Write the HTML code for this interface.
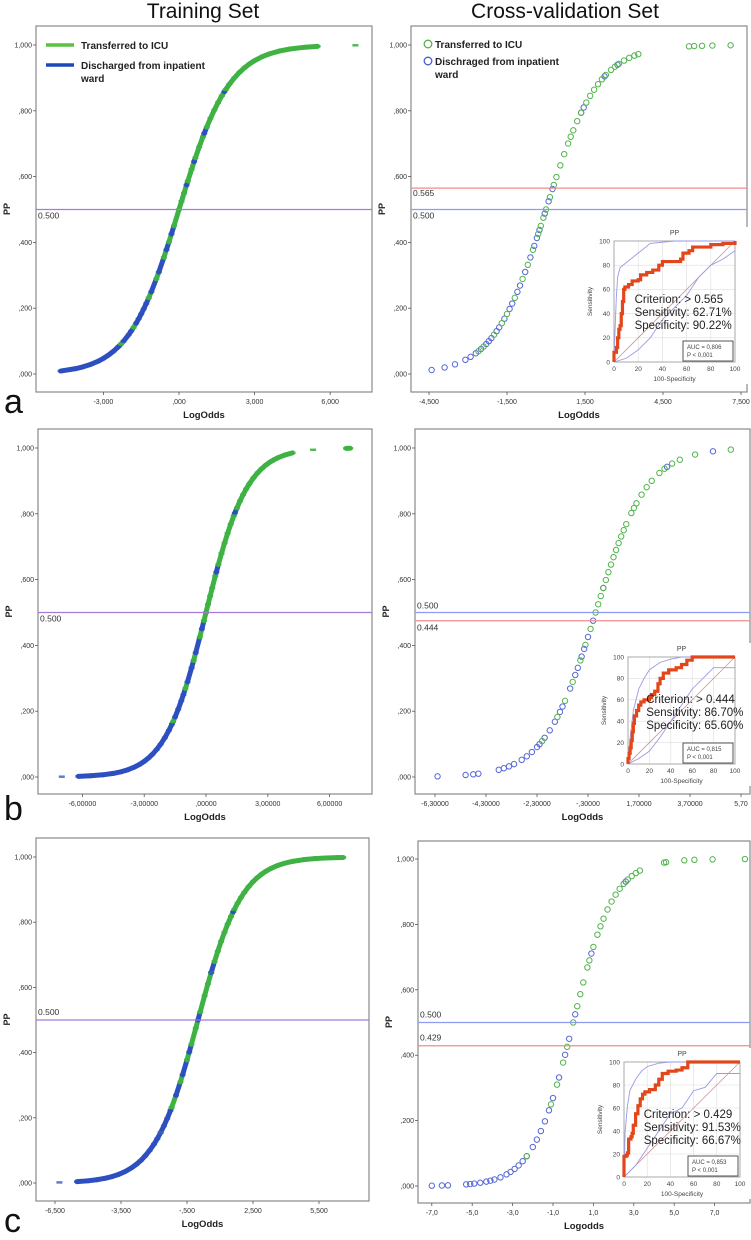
<!DOCTYPE html>
<html><head><meta charset="utf-8"><style>
html,body{margin:0;padding:0;background:#fff}
svg{display:block;font-family:"Liberation Sans",sans-serif}
</style></head><body>
<svg id="fig" width="751" height="1240" viewBox="0 0 751 1240" xmlns="http://www.w3.org/2000/svg">
<rect x="0" y="0" width="751" height="1240" fill="#fff"/>
<text x="203" y="18" font-size="21" text-anchor="middle" fill="#111">Training Set</text>
<text x="565" y="18" font-size="21" text-anchor="middle" fill="#111">Cross-validation Set</text>
<text x="4" y="413" font-size="34" fill="#111">a</text>
<text x="4" y="820" font-size="34" fill="#111">b</text>
<text x="4" y="1232" font-size="34" fill="#111">c</text>
<g id="root"></g>
</svg>
<script>
// ---- data: training sets (log-odds per outcome class) ----
const trainA_icu=[-2.3,-1.8,-1.2,-0.9,-0.6,-0.4,-0.2,0,0.1,0.2,0.35,0.5,0.65,0.8,0.95,1.1,1.25,1.4,1.55,1.7,1.85,2.0,2.2,2.4,2.6,2.8,3.0,3.3,3.6,4.0,4.4,5.0,5.5,7.0];
const trainA_dis=[-4.7,-4.1,-3.8,-3.5,-3.2,-3.0,-2.8,-2.6,-2.4,-2.2,-2.0,-1.9,-1.7,-1.6,-1.5,-1.4,-1.3,-1.1,-0.8,-0.5,-0.3,0.3,0.6,1.0,1.8];
const trainB_icu=[-1.6,-1.0,-0.6,-0.3,-0.1,0,0.1,0.2,0.3,0.45,0.6,0.75,0.9,1.05,1.2,1.35,1.5,1.65,1.8,1.95,2.1,2.3,2.5,2.7,2.9,3.1,3.3,3.5,3.8,4.2,5.2,6.8,7.0];
const trainB_dis=[-7.0,-6.2,-5.6,-5.0,-4.5,-4.1,-3.8,-3.5,-3.2,-3.0,-2.8,-2.6,-2.4,-2.2,-2.0,-1.8,-1.65,-1.5,-1.35,-1.2,-1.1,-0.9,-0.7,-0.5,-0.2,0.5,1.4];
const trainC_icu=[-1.7,-1.2,-0.8,-0.5,-0.3,-0.1,0.1,0.3,0.45,0.6,0.75,0.9,1.05,1.2,1.35,1.5,1.65,1.8,1.95,2.1,2.3,2.5,2.7,2.9,3.1,3.3,3.6,3.9,4.3,4.8,5.3,5.8,6.3,6.6];
const trainC_dis=[-6.3,-5.5,-5.0,-4.6,-4.2,-3.9,-3.6,-3.3,-3.0,-2.8,-2.6,-2.4,-2.2,-2.0,-1.85,-1.7,-1.55,-1.4,-1.25,-1.0,-0.7,-0.4,0.0,0.6,1.6];
// ---- data: cross-validation sets ----
const cvA_icu=[-2.6,-2.4,-2.0,-1.7,-1.5,-1.2,-0.9,-0.7,-0.5,-0.3,-0.2,-0.1,0.0,0.15,0.3,0.4,0.55,0.7,0.85,0.95,1.05,1.2,1.35,1.55,1.7,1.85,2.0,2.15,2.3,2.5,2.65,2.8,3.0,3.2,3.4,3.55,5.5,5.7,6.0,6.4,7.1];
const cvA_dis=[-4.4,-3.9,-3.5,-3.1,-2.9,-2.7,-2.5,-2.3,-2.2,-2.1,-1.9,-1.8,-1.6,-1.4,-1.3,-1.1,-1.0,-0.8,-0.6,-0.45,-0.35,-0.25,-0.05,0.1,0.25,1.35,1.45,2.25,2.75];
const cvB_icu=[-2.1,-1.5,-1.2,-0.9,-0.6,-0.4,-0.2,0,0.1,0.2,0.3,0.4,0.5,0.6,0.7,0.8,0.9,1.0,1.1,1.2,1.4,1.5,1.6,1.8,2.0,2.2,2.5,2.7,3.0,3.3,3.9,5.3];
const cvB_dis=[-6.2,-5.1,-4.8,-4.6,-3.8,-3.6,-3.4,-3.2,-2.9,-2.7,-2.5,-2.3,-2.2,-2.0,-1.8,-1.6,-1.4,-1.3,-1.0,-0.8,-0.7,-0.55,-0.45,-0.3,-0.1,0.3,2.8,4.6];
const cvC_icu=[-2.3,-1.1,-0.8,-0.5,-0.3,0,0.2,0.35,0.5,0.7,0.8,1.0,1.2,1.35,1.5,1.7,1.9,2.1,2.3,2.5,2.7,2.9,3.1,3.3,4.5,4.6,5.5,6.0,6.9,8.5];
const cvC_dis=[-7.0,-6.5,-6.2,-5.3,-5.1,-4.9,-4.6,-4.3,-4.1,-3.9,-3.6,-3.3,-3.1,-2.9,-2.7,-2.5,-2.3,-2.0,-1.8,-1.6,-1.4,-1.2,-1.0,-0.7,-0.4,-0.2,0.1,0.9,2.6];
// ---- tick values / labels ----
const yTickVals=[0,0.2,0.4,0.6,0.8,1.0];
const yTickLabels=[",000",",200",",400",",600",",800","1,000"];
const xTicksA_train=[-3,0,3,6]; const xLabA_train=["-3,000",",000","3,000","6,000"];
const xTicksA_cv=[-4.5,-1.5,1.5,4.5,7.5]; const xLabA_cv=["-4,500","-1,500","1,500","4,500","7,500"];
const xTicksB_train=[-6,-3,0,3,6]; const xLabB_train=["-6,00000","-3,00000",",00000","3,00000","6,00000"];
const xTicksB_cv=[-6.3,-4.3,-2.3,-0.3,1.7,3.7,5.7]; const xLabB_cv=["-6,30000","-4,30000","-2,30000","-,30000","1,70000","3,70000","5,70"];
const xTicksC_train=[-6.5,-3.5,-0.5,2.5,5.5]; const xLabC_train=["-6,500","-3,500","-,500","2,500","5,500"];
const xTicksC_cv=[-7,-5,-3,-1,1,3,5,7]; const xLabC_cv=["-7,0","-5,0","-3,0","-1,0","1,0","3,0","5,0","7,0"];
// ---- ROC data (fpr, tpr) ----
const rocA_fpr=[0,0,2,3,4,5,6,7,8,9,12,15,20,22,27,32,37,40,55,57,62,65,80,90,100];
const rocA_tpr=[0,8,12,20,27,30,40,50,60,62,64,67,68,72,74,76,80,83,85,90,92,95,97,98,100];
const rocA_upF=[0,1,2,3,5,10,20,30,50,100]; const rocA_upT=[0,30,55,70,78,82,90,98,100,100];
const rocA_loF=[0,10,20,30,40,50,60,70,80,90,100]; const rocA_loT=[0,3,10,20,35,45,55,70,80,85,92];
const rocB_fpr=[0,0,1,2,3,4,5,6,8,10,12,15,20,22,25,28,30,33,38,45,50,55,60,100];
const rocB_tpr=[0,5,10,15,22,30,38,45,50,55,58,60,62,65,68,75,80,85,88,90,93,97,100,100];
const rocB_upF=[0,2,5,10,15,20,30,40,50,100]; const rocB_upT=[0,25,50,70,80,88,95,98,100,100];
const rocB_loF=[0,10,20,30,40,50,60,70,80,100]; const rocB_loT=[0,5,12,25,40,55,70,80,90,90];
const rocC_fpr=[0,0,2,3,4,6,7,8,10,12,14,16,18,22,27,30,33,38,45,50,55,100];
const rocC_tpr=[0,18,19,21,33,35,38,45,55,62,68,72,74,76,80,85,90,92,93,95,100,100];
const rocC_upF=[0,1,3,5,10,15,20,30,40,100]; const rocC_upT=[0,40,62,75,85,92,96,99,100,100];
const rocC_loF=[0,5,10,20,30,40,50,60,70,80,100]; const rocC_loT=[0,5,10,25,40,55,60,75,78,90,90];

const NS="http://www.w3.org/2000/svg";
const root=document.getElementById('root');
function mk(tag,attrs,parent){const e=document.createElementNS(NS,tag);for(const k in attrs)e.setAttribute(k,attrs[k]);(parent||root).appendChild(e);return e;}
function txt(s,attrs,parent){const e=mk('text',attrs,parent);e.textContent=s;return e;}
const logistic=v=>1/(1+Math.exp(-v));
const GREEN="#3fb244", BLUE="#2d4fc0", CGREEN="#4fb44a", CBLUE="#5467d6";

function axes(g,c,xt,xl){
  const box=mk('rect',{x:c.bx0,y:c.by0,width:c.bx1-c.bx0,height:c.by1-c.by0,fill:'none',stroke:'#8a8a8a','stroke-width':1.2},g);
  
  
  yTickVals.forEach((v,i)=>{const y=c.Y(v);
    mk('line',{x1:c.bx0-3,x2:c.bx0,y1:y,y2:y,stroke:'#555','stroke-width':0.8},g);
    const t=txt(yTickLabels[i],{x:c.bx0-4,y:y+2.5,'font-size':7,'text-anchor':'end',fill:'#333'},g);
    
    });
  xt.forEach((v,i)=>{const x=c.X(v);
    mk('line',{x1:x,x2:x,y1:c.by1,y2:c.by1+3,stroke:'#555','stroke-width':0.8},g);
    const t=txt(xl[i],{x:x,y:c.by1+12,'font-size':7,'text-anchor':'middle',fill:'#333'},g);
    
    });
  const yt=txt('PP',{x:0,y:0,'font-size':9,'font-weight':'bold','text-anchor':'middle',fill:'#222',transform:`translate(${c.bx0-26},${(c.by0+c.by1)/2}) rotate(-90)`},g);
  
  
  const xtt=txt(c.xTitle||'LogOdds',{x:(c.bx0+c.bx1)/2,y:c.by1+26,'font-size':9.5,'font-weight':'bold','text-anchor':'middle',fill:'#222'},g);
  
  
}
function hline(g,c,v,color,label,ly,name){
  const y=c.Y(v);
  const l=mk('line',{x1:c.bx0,x2:c.bx1,y1:y,y2:y,stroke:color,'stroke-width':1.3},g);
  
  
  const t=txt(label,{x:c.bx0+2,y:ly,'font-size':8.5,fill:'#333'},g);
  
  
}
function mkCfg(bx0,bx1,by0,by1,v0,p0,k,y0,y1,xTitle){
  return {bx0,bx1,by0,by1,X:v=>p0+(v-v0)*k,Y:p=>y0+(y1-y0)*p,xTitle};
}
function training(c,icu,dis,xt,xl,name){
  const g=mk('g',{});
  
  
  axes(g,c,xt,xl);
  const pts=icu.map(v=>({v,cl:0})).concat(dis.map(v=>({v,cl:1}))).sort((a,b)=>a.v-b.v);
  const P=pts.map(p=>({v:p.v,x:c.X(p.v),y:c.Y(logistic(p.v)),cl:p.cl}));
  for(let i=0;i<P.length-1;i++){const a=P[i],b=P[i+1];
    if(b.v-a.v<0.7){const s=mk('line',{x1:a.x,y1:a.y,x2:b.x,y2:b.y,stroke:a.cl?BLUE:GREEN,'stroke-width':5,'stroke-linecap':'round'},g);
      
      }}
  P.forEach(p=>{const s=mk('line',{x1:p.x-3,y1:p.y,x2:p.x+3,y2:p.y,stroke:p.cl?BLUE:GREEN,'stroke-width':2.5,opacity:p.cl?0.75:0.9},g);
    
    });
  return g;
}
function cv(c,icu,dis,xt,xl,name){
  const g=mk('g',{});
  
  
  axes(g,c,xt,xl);
  dis.forEach(v=>{const e=mk('circle',{cx:c.X(v),cy:c.Y(logistic(v)),r:2.7,fill:'none',stroke:CBLUE,'stroke-width':1},g);
    
    });
  icu.forEach(v=>{const e=mk('circle',{cx:c.X(v),cy:c.Y(logistic(v)),r:2.7,fill:'none',stroke:CGREEN,'stroke-width':1},g);
    
    });
  return g;
}
function roc(r,fpr,tpr,upF,upT,loF,loT,crit,sens,spec,auc,name){
  const g=mk('g',{});
  
  
  const X=v=>r.x0+(r.x1-r.x0)*v/100, Y=v=>r.y1-(r.y1-r.y0)*v/100;
  mk('rect',{x:r.x0-4,y:r.y0-14,width:r.x1-r.x0+30,height:r.y1-r.y0+36,fill:'#fff'},g);
  [0,20,40,60,80,100].forEach(v=>{
    mk('line',{x1:X(v),x2:X(v),y1:r.y0,y2:r.y1,stroke:'#ddd','stroke-width':0.6},g);
    mk('line',{x1:r.x0,x2:r.x1,y1:Y(v),y2:Y(v),stroke:'#ddd','stroke-width':0.6},g);
    const a=txt(String(v),{x:X(v),y:r.y1+9,'font-size':6.5,'text-anchor':'middle',fill:'#444'},g);
     
    const b=txt(String(v),{x:r.x0-4,y:Y(v)+2.3,'font-size':6.5,'text-anchor':'end',fill:'#444'},g);
     });
  mk('rect',{x:r.x0,y:r.y0,width:r.x1-r.x0,height:r.y1-r.y0,fill:'none',stroke:'#999','stroke-width':0.8},g);
  const t1=txt('PP',{x:(r.x0+r.x1)/2,y:r.y0-6,'font-size':7,'text-anchor':'middle',fill:'#444'},g);
   
  const t2=txt('100-Specificity',{x:(r.x0+r.x1)/2,y:r.y1+19,'font-size':6.5,'text-anchor':'middle',fill:'#444'},g);
   
  const t3=txt('Sensitivity',{x:0,y:0,'font-size':6.5,'text-anchor':'middle',fill:'#444',transform:`translate(${r.x0-22},${(r.y0+r.y1)/2}) rotate(-90)`},g);
   
  const dg=mk('line',{x1:X(0),y1:Y(0),x2:X(100),y2:Y(100),stroke:'#d89090','stroke-width':0.8},g);
   
  const band=(F,T,nm)=>{const p=mk('polyline',{points:F.map((f,i)=>X(f)+','+Y(T[i])).join(' '),fill:'none',stroke:'#9a9ae6','stroke-width':0.9},g);
     };
  band(upF,upT,'roc-upper-ci'); band(loF,loT,'roc-lower-ci');
  let pts=[];
  fpr.forEach((f,i)=>{ if(i>0) pts.push(X(f)+','+Y(tpr[i-1])); pts.push(X(f)+','+Y(tpr[i])); });
  const rc=mk('polyline',{points:pts.join(' '),fill:'none',stroke:'#e2471b','stroke-width':3.2,'stroke-linejoin':'miter'},g);
   
  const tx=r.x0+(r.x1-r.x0)*0.17;
  [crit,sens,spec].forEach((s,i)=>{const t=txt(s,{x:tx,y:r.ty+i*13,'font-size':11.5,fill:'#222'},g);
     });
  const bx=r.x1-52,by=r.y1-21;
  mk('rect',{x:bx,y:by,width:50,height:20,fill:'#fff',stroke:'#444','stroke-width':0.9},g);
  const a1=txt('AUC = '+auc,{x:bx+4,y:by+8,'font-size':6,fill:'#444'},g);
   
  const a2=txt('P < 0,001',{x:bx+4,y:by+16,'font-size':6,fill:'#444'},g);
   
}

// Row a
const cAL=mkCfg(36,372,26,392,0,179,25.2,374,45);
training(cAL,trainA_icu,trainA_dis,xTicksA_train,xLabA_train,'training-plot-a');
hline(root,cAL,0.5,'#a77ad8','0.500',cAL.Y(0.5)+9,'threshold-line-a-train');
const cAR=mkCfg(411,747,26,392,-1.5,507,26,374,45);
cv(cAR,cvA_icu,cvA_dis,xTicksA_cv,xLabA_cv,'cv-plot-a');
hline(root,cAR,0.565,'#f28b8b','0.565',cAR.Y(0.565)+8,'criterion-line-a');
hline(root,cAR,0.5,'#8d9cf0','0.500',cAR.Y(0.5)+9,'threshold-line-a-cv');
roc({x0:614,x1:735,y0:241,y1:362,ty:303},rocA_fpr,rocA_tpr,rocA_upF,rocA_upT,rocA_loF,rocA_loT,'Criterion: > 0.565','Sensitivity: 62.71%','Specificity: 90.22%','0,806','roc-inset-a');
// Row b
const cBL=mkCfg(38,372,429,794,0,206,20.6,777,448);
training(cBL,trainB_icu,trainB_dis,xTicksB_train,xLabB_train,'training-plot-b');
hline(root,cBL,0.5,'#a77ad8','0.500',cBL.Y(0.5)+9,'threshold-line-b-train');
const cBR=mkCfg(415,750,429,794,-0.3,588,25.5,777,448);
cv(cBR,cvB_icu,cvB_dis,xTicksB_cv,xLabB_cv,'cv-plot-b');
hline(root,cBR,0.5,'#8d9cf0','0.500',cBR.Y(0.5)-4,'threshold-line-b-cv');
hline(root,cBR,0.475,'#f28b8b','0.444',cBR.Y(0.475)+10,'criterion-line-b');
roc({x0:628,x1:735,y0:657,y1:764,ty:703},rocB_fpr,rocB_tpr,rocB_upF,rocB_upT,rocB_loF,rocB_loT,'Criterion: > 0.444','Sensitivity: 86.70%','Specificity: 65.60%','0,815','roc-inset-b');
// Row c
const cCL=mkCfg(36,369,838,1201,-0.5,187,22,1183,857);
training(cCL,trainC_icu,trainC_dis,xTicksC_train,xLabC_train,'training-plot-c');
hline(root,cCL,0.5,'#a77ad8','0.500',cCL.Y(0.5)-5,'threshold-line-c-train');
const cCR=mkCfg(418,750,841,1203,-1,553,20.2,1186,859,'Logodds');
cv(cCR,cvC_icu,cvC_dis,xTicksC_cv,xLabC_cv,'cv-plot-c');
hline(root,cCR,0.5,'#8d9cf0','0.500',cCR.Y(0.5)-5,'threshold-line-c-cv');
hline(root,cCR,0.429,'#f28b8b','0.429',cCR.Y(0.429)-5,'criterion-line-c');
roc({x0:624,x1:740,y0:1062,y1:1177,ty:1118},rocC_fpr,rocC_tpr,rocC_upF,rocC_upT,rocC_loF,rocC_loT,'Criterion: > 0.429','Sensitivity: 91.53%','Specificity: 66.67%','0,853','roc-inset-c');

// Legends (row a)
const lg=mk('g',{});


mk('line',{x1:46,x2:74,y1:45,y2:45,stroke:'#5cc043','stroke-width':3.5},lg);
mk('line',{x1:46,x2:74,y1:65,y2:65,stroke:'#1d49b8','stroke-width':3.5},lg);
txt('Transferred to ICU',{x:81,y:49,'font-size':10,'font-weight':'bold',fill:'#222'},lg);
txt('Discharged from inpatient',{x:81,y:69,'font-size':10,'font-weight':'bold',fill:'#222'},lg);
txt('ward',{x:81,y:82,'font-size':10,'font-weight':'bold',fill:'#222'},lg);
const lg2=mk('g',{});


mk('circle',{cx:428,cy:44,r:3.8,fill:'none',stroke:'#4fb44a','stroke-width':1.3},lg2);
mk('circle',{cx:428,cy:61,r:3.8,fill:'none',stroke:'#3f5fd6','stroke-width':1.3},lg2);
txt('Transferred to ICU',{x:435,y:48,'font-size':10,'font-weight':'bold',fill:'#222'},lg2);
txt('Dischraged from inpatient',{x:435,y:65,'font-size':10,'font-weight':'bold',fill:'#222'},lg2);
txt('ward',{x:435,y:78,'font-size':10,'font-weight':'bold',fill:'#222'},lg2);
</script>
</body></html>
